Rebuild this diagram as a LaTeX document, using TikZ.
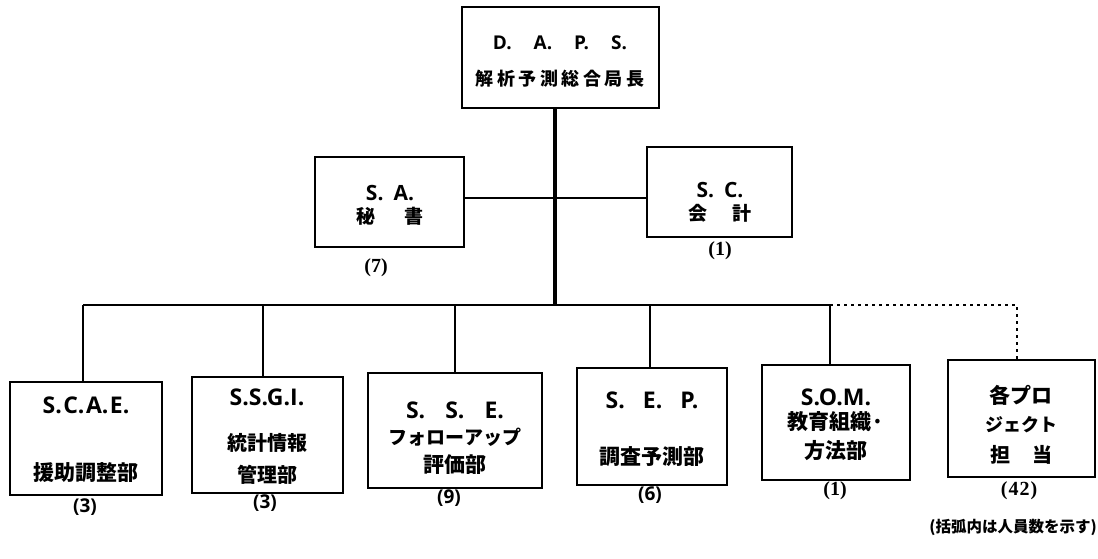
\documentclass[tikz,border=0pt]{standalone}
\usepackage{fontspec}
\newfontfamily\lat{Open Sans}
\newfontfamily\jp{Noto Sans CJK JP}
\newfontfamily\ser{Liberation Serif}
\begin{document}
\begin{tikzpicture}[x=1pt,y=-1pt,
  box/.style={draw, line width=2.8pt, inner sep=0pt},
  conn/.style={line width=2.6pt},
  trunk/.style={line width=4pt},
  dotline/.style={line width=2.8pt, dash pattern=on 2.6pt off 4.4pt},
  lab/.style={inner sep=0pt, font=\lat\bfseries\fontsize{23}{23}\selectfont},
  labs/.style={inner sep=0pt, font=\lat\bfseries\fontsize{21}{21}\selectfont},
  jpt/.style={inner sep=0pt, font=\jp\bfseries\fontsize{21}{21}\selectfont},
  nums/.style={inner sep=0pt, font=\lat\bfseries\fontsize{19}{19}\selectfont},
  numr/.style={inner sep=0pt, font=\ser\bfseries\fontsize{20}{20}\selectfont}]
\useasboundingbox (0,0) rectangle (1098,558);

% boxes
\node[box, minimum width=197pt, minimum height=101pt] (daps) at (560.5,57.5) {};
\node[box, minimum width=149pt, minimum height=90pt] (sa) at (389.5,202) {};
\node[box, minimum width=145pt, minimum height=90pt] (sc) at (719.5,192) {};
\node[box, minimum width=152pt, minimum height=113pt] (scae) at (86,438.5) {};
\node[box, minimum width=151pt, minimum height=116pt] (ssgi) at (267.5,435) {};
\node[box, minimum width=174pt, minimum height=115pt] (sse) at (455,430.5) {};
\node[box, minimum width=150pt, minimum height=117pt] (sep) at (652,426.5) {};
\node[box, minimum width=148pt, minimum height=115pt] (som) at (836,422.5) {};
\node[box, minimum width=147pt, minimum height=117pt] (prj) at (1021.5,418.5) {};

% texts in boxes
\node[labs, font=\lat\bfseries\fontsize{19}{19}\selectfont] (t1) at (560,43) {D.\hspace{22pt}A.\hspace{22pt}P.\hspace{22pt}S.};
\node[jpt, font=\jp\bfseries\fontsize{18}{18}\selectfont] (t2) at (560,79) {解\hspace{3.5pt}析\hspace{3.5pt}予\hspace{3.5pt}測\hspace{3.5pt}総\hspace{3.5pt}合\hspace{3.5pt}局\hspace{3.5pt}長};
\node[labs] (t3) at (390,193) {S.\hspace{10pt}A.};
\node[jpt, font=\jp\bfseries\fontsize{19}{19}\selectfont] (t4) at (390,216) {秘\hspace{30pt}書};
\node[labs] (t5) at (720,190) {S.\hspace{10pt}C.};
\node[jpt, font=\jp\bfseries\fontsize{19}{19}\selectfont] (t6) at (720,213) {会\hspace{26pt}計};
\node[lab] (t7) at (86,405) {S.\kern1.5pt C.\kern1.5pt A.\kern1.5pt E.};
\node[jpt] (t8) at (86,473) {援助調整部};
\node[lab] (t9) at (267,397) {S.S.G.I.};
\node[jpt, font=\jp\bfseries\fontsize{20}{20}\selectfont] (t10) at (267,443) {統計情報};
\node[jpt, font=\jp\bfseries\fontsize{20}{20}\selectfont] (t11) at (267,475) {管理部};
\node[lab] (t12) at (455,410) {S.\hspace{20pt}S.\hspace{20pt}E.};
\node[jpt, font=\jp\bfseries\fontsize{19}{19}\selectfont] (t13) at (455,437) {フォローアップ};
\node[jpt] (t14) at (455,465) {評価部};
\node[lab] (t15) at (652,400) {S.\hspace{18pt}E.\hspace{18pt}P.};
\node[jpt] (t16) at (652,457) {調査予測部};
\node[lab] (t17) at (836,397) {S.O.M.};
\node[jpt] (t18) at (836,422) {教育組織·};
\node[jpt] (t19) at (836,451) {方法部};
\node[jpt] (t20) at (1021,395) {各プロ};
\node[jpt, font=\jp\bfseries\fontsize{18}{18}\selectfont] (t21) at (1021,425) {ジェクト};
\node[jpt, font=\jp\bfseries\fontsize{20}{20}\selectfont] (t22) at (1021,455) {担\hspace{22pt}当};

% head counts
\node[numr] (n1) at (376,268) {(7)};
\node[numr] (n2) at (720,251) {(1)};
\node[nums] (n3) at (85,507) {(3)};
\node[nums] (n4) at (265,503) {(3)};
\node[nums] (n5) at (449,498) {(9)};
\node[nums] (n6) at (650,495) {(6)};
\node[numr] (n7) at (835,491) {(1)};
\node[numr] (n8) at (1019,491) {(\kern1pt 4\kern1pt 2\kern1pt)};
\node[inner sep=0pt, font=\jp\bfseries\fontsize{15.5}{15.5}\selectfont] (note) at (1013,527) {(括弧内は人員数を示す)};

% connectors
\coordinate (tb) at (555,305);
\coordinate (mid) at (555,198);
\coordinate (b1) at (83,305);
\coordinate (b2) at (263,305);
\coordinate (b3) at (455,305);
\coordinate (b4) at (650,305);
\coordinate (b5) at (830,305);
\coordinate (b6) at (1017,305);
\draw[trunk] (tb |- daps.south) -- (tb);
\draw[conn] (mid -| sa.east) -- (mid -| sc.west);
\draw[conn] (b1) -- (b5);
\draw[conn] (b1) -- (b1 |- scae.north);
\draw[conn] (b2) -- (b2 |- ssgi.north);
\draw[conn] (b3) -- (b3 |- sse.north);
\draw[conn] (b4) -- (b4 |- sep.north);
\draw[conn] (b5) -- (b5 |- som.north);
\draw[dotline] (b5) -- (b6) -- (b6 |- prj.north);
\end{tikzpicture}
\end{document}
